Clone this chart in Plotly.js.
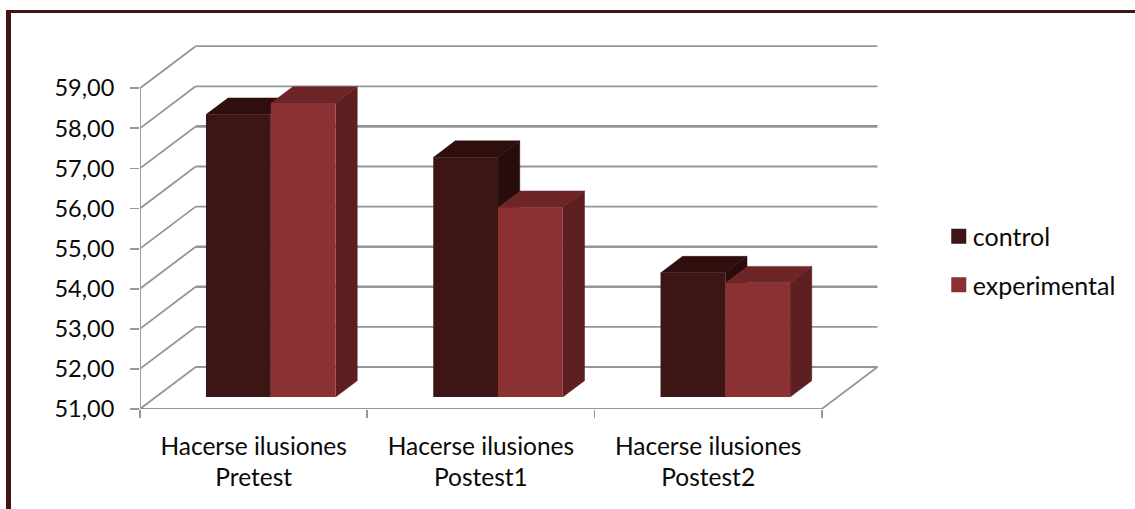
<!DOCTYPE html>
<html>
<head>
<meta charset="utf-8">
<script src="https://cdn.plot.ly/plotly-3.0.1.min.js"></script>
<style>
  html, body { margin: 0; padding: 0; background: #fff; }
  #chart { width: 1135px; height: 509px; }
</style>
</head>
<body>
<div id="chart"></div>
<script>
// Measures per session group
const categories = ['Hacerse ilusiones<br>Pretest', 'Hacerse ilusiones<br>Postest1', 'Hacerse ilusiones<br>Postest2'];
const control = [58.05, 56.98, 54.10];
const experimental = [58.33, 55.73, 53.85];
const yTicks = [51, 52, 53, 54, 55, 56, 57, 58, 59];
const heavyGridValues = [53, 54, 57];

// Oblique projection of the box: depth 0 is the front of the floor, depth 1 the back wall
const depthX = 0.245, depthY = 1.047;
const barFront = 0.285, barBack = 0.675;
const barWidth = 0.285, gapX = 0.2205;
const floorValue = 51;

function project(x, value, depth) {
  return [x + depth * depthX, value + depth * depthY];
}
function segment(points, color, width) {
  const p = points.map(q => project(q[0], q[1], q[2]));
  return { type: 'scatter', mode: 'lines', x: p.map(q => q[0]), y: p.map(q => q[1]),
    line: { color: color, width: width }, showlegend: false, hoverinfo: 'skip', zorder: 0 };
}
function face(points, color) {
  const p = points.map(q => project(q[0], q[1], q[2]));
  return { type: 'scatter', mode: 'lines', fill: 'toself', fillcolor: color,
    x: p.map(q => q[0]), y: p.map(q => q[1]),
    line: { color: color, width: 0.5 }, showlegend: false, hoverinfo: 'skip', zorder: 1 };
}
function boxFaces(left, value, topColor, sideColor) {
  const right = left + barWidth;
  return [
    face([[right, floorValue, barFront], [right, floorValue, barBack], [right, value, barBack], [right, value, barFront]], sideColor),
    face([[left, value, barFront], [right, value, barFront], [right, value, barBack], [left, value, barBack]], topColor)
  ];
}

const gridColor = '#969696';
const traces = [];

// Back wall, side wall and floor
yTicks.forEach(v => {
  const width = heavyGridValues.includes(v) ? 2.6 : 1.8;
  traces.push(segment([[0, v, 0], [0, v, 1]], gridColor, 1.8));
  traces.push(segment([[0, v, 1], [categories.length, v, 1]], gridColor, width));
});
traces.push(segment([[0, floorValue, 0], [0, yTicks[yTicks.length - 1], 0]], gridColor, 1.8));
traces.push(segment([[0, floorValue, 0], [categories.length, floorValue, 0], [categories.length, floorValue, 1]], gridColor, 1.8));

// Top and side faces of the columns
categories.forEach((c, i) => {
  traces.push(...boxFaces(i + gapX, control[i], '#2e0f0d', '#260c0a'));
  traces.push(...boxFaces(i + gapX + barWidth, experimental[i], '#6d2527', '#5e1f20'));
});

// Front faces of the columns
const barX = categories.map((c, i) => i + gapX + barWidth + barFront * depthX);
const barBase = floorValue + barFront * depthY;
traces.push({ type: 'bar', name: 'control', x: barX, y: control.map(v => v - floorValue), base: barBase,
  marker: { color: '#3c1514' }, showlegend: false, hoverinfo: 'skip', zorder: 2 });
traces.push({ type: 'bar', name: 'experimental', x: barX, y: experimental.map(v => v - floorValue), base: barBase,
  marker: { color: '#8c3133' }, showlegend: false, hoverinfo: 'skip', zorder: 2 });

// Legend keys
[['control', '#3c1514'], ['experimental', '#8c3133']].forEach(k => {
  traces.push({ type: 'scatter', mode: 'markers', name: k[0], legendgroup: k[0], x: [null], y: [null],
    marker: { symbol: 'square', size: 15, color: k[1] } });
});

const fontFace = 'Lato, "Open Sans", sans-serif';
const textColor = '#0a0a0a';
const layout = {
  width: 1135, height: 509,
  margin: { l: 140, r: 245, t: 41, b: 100 },
  paper_bgcolor: '#fff', plot_bgcolor: '#fff',
  font: { family: fontFace, color: textColor, size: 22 },
  separators: ', ',
  barmode: 'group', bargap: 1 - 2 * barWidth, bargroupgap: 0,
  showlegend: true,
  legend: { x: 1.065, y: 0.531, xanchor: 'left', yanchor: 'top', traceorder: 'grouped', indentation: -6,
    tracegroupgap: 13, font: { family: fontFace, size: 25, color: textColor }, bgcolor: 'rgba(0,0,0,0)' },
  xaxis: {
    range: [0, 3.3], showgrid: false, zeroline: false, showline: false, fixedrange: true,
    tickmode: 'array', tickvals: categories.map((c, i) => i + 0.5), ticktext: categories,
    ticks: '', tickangle: 0, ticklabelstandoff: 20, tickfont: { family: fontFace, size: 24.5, color: textColor },
    minor: { tickmode: 'array', tickvals: [0, 1, 2, 3], ticks: 'outside', ticklen: 8, tickwidth: 1.8, tickcolor: gridColor, showgrid: false }
  },
  yaxis: {
    range: [51, 51 + 368 / 40.1], showgrid: false, zeroline: false, showline: false, fixedrange: true,
    tickmode: 'array', tickvals: yTicks, tickformat: '.2f',
    ticks: 'outside', ticklen: 9, tickwidth: 1.8, tickcolor: gridColor, ticklabelstandoff: 11,
    tickfont: { family: fontFace, size: 23.5, color: textColor }
  },
  // Page frame along the top and left edges
  shapes: [
    { type: 'rect', xref: 'paper', yref: 'paper', layer: 'above', line: { width: 0 }, fillcolor: '#3f1515',
      x0: (6 - 140) / 750, x1: (11 - 140) / 750, y0: (409 - 509) / 368, y1: (409 - 10) / 368 },
    { type: 'rect', xref: 'paper', yref: 'paper', layer: 'above', line: { width: 0 }, fillcolor: '#3f1515',
      x0: (6 - 140) / 750, x1: (1135 - 140) / 750, y0: (409 - 13) / 368, y1: (409 - 10) / 368 }
  ]
};

Plotly.newPlot('chart', traces, layout, { displayModeBar: false, staticPlot: true }).then(() => {
  // Tighten the gap between each legend key and its label
  document.querySelectorAll('#chart .legendpoints').forEach(g => g.setAttribute('transform', 'translate(6,0)'));
});
</script>
</body>
</html>
